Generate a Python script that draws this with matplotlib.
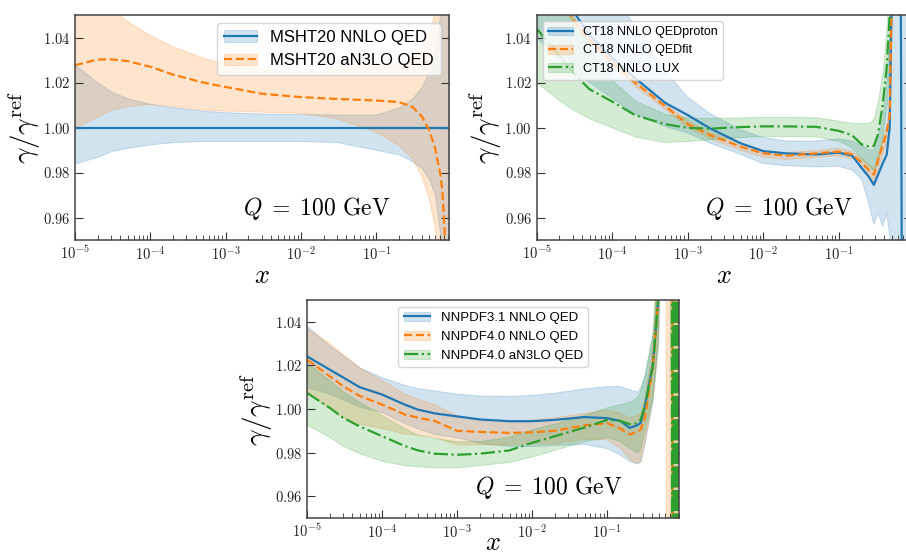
import matplotlib
matplotlib.use("Agg")
import matplotlib.pyplot as plt
from matplotlib.ticker import FuncFormatter, LogLocator, NullFormatter
import numpy as np

plt.rcParams['mathtext.fontset'] = 'cm'

BLUE = '#1f77b4'
ORANGE = '#ff7f0e'
GREEN = '#2ca02c'

### Panel 1: MSHT20
x1 = [1e-5, 2e-5, 3e-5, 5e-5, 1e-4, 2e-4, 5e-4, 1e-3, 3e-3, 1e-2, 3e-2, 0.1,
      0.2, 0.3, 0.4, 0.5, 0.6, 0.7, 0.75, 0.8, 0.85, 0.9, 0.92]
msht_nnlo = [1.0, 1.0, 1.0, 1.0, 1.0, 1.0, 1.0, 1.0, 1.0, 1.0, 1.0, 1.0,
             1.0, 1.0, 1.0, 1.0, 1.0, 1.0, 1.0, 1.0, 1.0, 1.0, 1.0]
msht_nnlo_hi = [1.028, 1.020, 1.016, 1.013, 1.0105, 1.009, 1.0075, 1.0068, 1.0062, 1.006, 1.0058, 1.0058,
                1.009, 1.013, 1.018, 1.025, 1.035, 1.05, 1.06, 1.08, 1.10, 1.12, 1.12]
msht_nnlo_lo = [0.984, 0.987, 0.9895, 0.991, 0.9925, 0.9935, 0.994, 0.994, 0.994, 0.994, 0.9935, 0.990,
                0.988, 0.985, 0.982, 0.977, 0.970, 0.953, 0.93, 0.91, 0.89, 0.88, 0.88]
msht_an3lo = [1.0277, 1.0302, 1.0303, 1.0295, 1.027, 1.0235, 1.020, 1.018, 1.015, 1.0135, 1.0127, 1.012,
              1.0113, 1.0092, 1.005, 0.999, 0.991, 0.980, 0.972, 0.956, 0.93, 0.90, 0.89]
msht_an3lo_hi = [1.075, 1.062, 1.053, 1.047, 1.041, 1.036, 1.031, 1.0284, 1.026, 1.0254, 1.026, 1.0275,
                 1.029, 1.031, 1.036, 1.042, 1.052, 1.07, 1.08, 1.09, 1.10, 1.10, 1.10]
msht_an3lo_lo = [1.000, 1.005, 1.008, 1.0095, 1.0105, 1.0095, 1.008, 1.0075, 1.007, 1.0065, 1.004, 0.998,
                 0.992, 0.986, 0.978, 0.968, 0.955, 0.94, 0.93, 0.91, 0.90, 0.90, 0.90]

### Panel 2: CT18
x2 = [1e-5, 2e-5, 3e-5, 5e-5, 1e-4, 2e-4, 5e-4, 1e-3, 2e-3, 5e-3, 1e-2, 2e-2, 5e-2, 0.1,
      0.15, 0.2, 0.25, 0.29, 0.33, 0.38, 0.43, 0.47, 0.5, 0.55, 0.65, 0.69, 0.75, 0.85, 0.92]
ct18_proton = [1.09, 1.065, 1.052, 1.041, 1.031, 1.022, 1.011, 1.0055, 0.9995, 0.993, 0.9895, 0.9885, 0.988, 0.9888,
               0.9875, 0.982, 0.978, 0.9745, 0.979, 0.984, 0.988, 1.000, 1.06, 1.12, 1.12, 0.88, 0.88, 0.88, 0.88]
ct18_proton_hi = [1.15, 1.12, 1.09, 1.075, 1.06, 1.045, 1.025, 1.0135, 1.006, 0.999, 0.9955, 0.994, 0.994, 0.995,
                  0.994, 0.992, 0.990, 0.990, 0.996, 1.003, 1.02, 1.04, 1.10, 1.15, 1.15, 1.15, 1.15, 1.15, 1.15]
ct18_proton_lo = [1.04, 1.03, 1.025, 1.02, 1.013, 1.006, 1.0005, 0.9975, 0.993, 0.988, 0.984, 0.983, 0.9825, 0.9828,
                  0.981, 0.977, 0.966, 0.957, 0.962, 0.956, 0.962, 0.952, 0.94, 0.85, 0.85, 0.85, 0.85, 0.85, 0.85]
ct18_fit = [1.085, 1.06, 1.048, 1.039, 1.029, 1.020, 1.0095, 1.0015, 0.9965, 0.9915, 0.9885, 0.9875, 0.9885, 0.9893,
            0.988, 0.9845, 0.981, 0.979, 0.9855, 0.992, 0.998, 1.005, 1.06, 1.12, 1.12, 1.12, 1.12, 1.12, 1.12]
ct18_fit_hi = [1.087, 1.062, 1.0495, 1.0405, 1.0305, 1.0215, 1.011, 1.003, 0.998, 0.993, 0.990, 0.989, 0.990, 0.991,
               0.9895, 0.9865, 0.9835, 0.982, 0.989, 0.9955, 1.002, 1.01, 1.07, 1.13, 1.13, 1.13, 1.13, 1.13, 1.13]
ct18_fit_lo = [1.083, 1.058, 1.0465, 1.0375, 1.0275, 1.0185, 1.008, 1.000, 0.995, 0.990, 0.987, 0.986, 0.987, 0.9876,
               0.9865, 0.9825, 0.9785, 0.976, 0.982, 0.9885, 0.994, 1.000, 1.05, 1.11, 1.11, 1.11, 1.11, 1.11, 1.11]
ct18_lux = [1.0439, 1.032, 1.0245, 1.017, 1.0115, 1.0055, 1.0015, 0.9998, 0.9995, 1.0002, 1.0005, 1.0005, 1.0003, 0.9985,
            0.9965, 0.9925, 0.9915, 0.9918, 0.997, 1.010, 1.027, 1.05, 1.07, 1.12, 1.12, 1.12, 1.12, 1.12, 1.12]
ct18_lux_hi = [1.12, 1.07, 1.05, 1.035, 1.021, 1.012, 1.006, 1.0045, 1.0042, 1.0045, 1.0048, 1.0048, 1.0045, 1.003,
               1.002, 1.002, 1.002, 1.004, 1.012, 1.025, 1.045, 1.07, 1.09, 1.15, 1.15, 1.15, 1.15, 1.15, 1.15]
ct18_lux_lo = [1.020, 1.012, 1.008, 1.004, 1.000, 0.996, 0.9935, 0.994, 0.9948, 0.9958, 0.9962, 0.9962, 0.996, 0.994,
               0.991, 0.986, 0.983, 0.981, 0.985, 0.997, 1.010, 1.03, 1.05, 1.10, 1.10, 1.10, 1.10, 1.10, 1.10]

### Panel 3: NNPDF
x3 = [1e-5, 2e-5, 3e-5, 5e-5, 1e-4, 2e-4, 3e-4, 5e-4, 1e-3, 2e-3, 5e-3, 1e-2, 2e-2, 5e-2,
      0.1, 0.15, 0.2, 0.25, 0.28, 0.32, 0.41, 0.48]
nn31 = [1.0241, 1.018, 1.0145, 1.010, 1.0066, 1.002, 0.9997, 0.998, 0.9966, 0.9952, 0.9944, 0.9944, 0.995, 0.9963,
        0.9958, 0.9945, 0.9913, 0.9925, 0.9936, 1.0012, 1.021, 1.05]
nn31_hi = [1.038, 1.029, 1.0245, 1.019, 1.0145, 1.011, 1.0095, 1.0085, 1.007, 1.0062, 1.006, 1.0065, 1.0075, 1.0095,
           1.0105, 1.0105, 1.009, 1.008, 1.010, 1.016, 1.035, 1.07]
nn31_lo = [1.010, 1.007, 1.0045, 1.001, 0.9985, 0.9935, 0.991, 0.9885, 0.987, 0.9845, 0.983, 0.983, 0.9835, 0.984,
           0.982, 0.979, 0.976, 0.975, 0.976, 0.985, 1.005, 1.03]
nn40 = [1.0226, 1.015, 1.0105, 1.006, 1.002, 0.9975, 0.996, 0.9945, 0.990, 0.9895, 0.989, 0.9893, 0.990, 0.9925,
        0.9935, 0.991, 0.9883, 0.9895, 0.9905, 0.996, 1.02, 1.05]
nn40_hi = [1.037, 1.030, 1.025, 1.019, 1.013, 1.007, 1.0045, 1.002, 0.997, 0.995, 0.9945, 0.995, 0.996, 0.998,
           0.9995, 0.998, 0.996, 0.997, 0.998, 1.005, 1.03, 1.07]
nn40_lo = [1.008, 1.000, 0.996, 0.993, 0.991, 0.9885, 0.988, 0.987, 0.9835, 0.9835, 0.9835, 0.984, 0.984, 0.986,
           0.986, 0.982, 0.977, 0.975, 0.976, 0.985, 1.005, 1.03]
nn40n3 = [1.0073, 1.0005, 0.996, 0.992, 0.9875, 0.983, 0.981, 0.9795, 0.979, 0.9795, 0.981, 0.9845, 0.9875, 0.9915,
          0.995, 0.9945, 0.993, 0.9935, 0.995, 1.0012, 1.02, 1.05]
nn40n3_hi = [1.021, 1.013, 1.008, 1.003, 0.997, 0.991, 0.988, 0.9865, 0.985, 0.985, 0.987, 0.9905, 0.993, 0.997,
             1.0005, 1.002, 1.003, 1.005, 1.008, 1.015, 1.035, 1.07]
nn40n3_lo = [0.9925, 0.987, 0.983, 0.9795, 0.976, 0.974, 0.9735, 0.973, 0.973, 0.974, 0.9755, 0.978, 0.981, 0.985,
             0.987, 0.985, 0.982, 0.980, 0.981, 0.990, 1.005, 1.03]

# large-x tails of the NNPDF sets, where the curves blow up
x3_tail = [0.55, 0.61, 0.62, 0.69, 0.70, 0.73, 0.74, 0.75, 0.76, 0.77, 0.78, 0.79, 0.80, 0.81,
           0.82, 0.83, 0.84, 0.85, 0.86, 0.87, 0.88, 0.89, 0.90, 0.91, 0.92]
nn31_tail = [1.12, 1.12, 1.12, 1.12, 1.12, 1.12, 1.12, 1.12, 1.12, 1.12, 1.12, 1.12, 1.12, 1.12,
             1.12, 1.12, 1.12, 1.12, 1.12, 1.12, 1.12, 1.12, 1.12, 1.12, 1.12]
nn40_tail = [1.12, 1.12, 1.12, 1.12, 1.12, 1.12, 1.12, 0.88, 0.88, 1.12, 1.12, 0.88, 0.88, 1.12,
             1.12, 0.88, 0.88, 1.12, 1.12, 0.88, 0.88, 1.12, 1.12, 0.88, 0.88]
nn40_tail_lo = [1.10, 1.10, 0.85, 0.85, 1.10, 0.85, 0.85, 0.85, 0.85, 0.85, 0.85, 0.85, 0.85, 0.85,
                0.85, 0.85, 0.85, 0.85, 0.85, 0.85, 0.85, 0.85, 0.85, 0.85, 0.85]
nn40n3_tail = [1.12, 1.12, 1.12, 1.12, 1.12, 1.12, 0.88, 0.88, 1.12, 1.12, 0.88, 0.88, 1.12, 1.12,
               0.88, 0.88, 1.12, 1.12, 0.88, 0.88, 1.12, 1.12, 0.88, 0.88, 1.12]
nn40n3_tail_lo = [1.10, 1.10, 1.10, 1.10, 1.10, 0.85, 0.85, 0.85, 0.85, 0.85, 0.85, 0.85, 0.85, 0.85,
                  0.85, 0.85, 0.85, 0.85, 0.85, 0.85, 0.85, 0.85, 0.85, 0.85, 0.85]
tail_hi = [1.15, 1.15, 1.15, 1.15, 1.15, 1.15, 1.15, 1.15, 1.15, 1.15, 1.15, 1.15, 1.15, 1.15,
           1.15, 1.15, 1.15, 1.15, 1.15, 1.15, 1.15, 1.15, 1.15, 1.15, 1.15]
nn31_tail_lo = [1.10, 1.10, 1.10, 1.10, 1.10, 1.10, 1.10, 1.10, 1.10, 1.10, 1.10, 1.10, 1.10, 1.10,
                1.10, 1.10, 1.10, 1.10, 1.10, 1.10, 1.10, 1.10, 1.10, 1.10, 1.10]


def style_axes(ax, xpad=0):
    ax.set_xscale('log')
    ax.set_xlim(1e-5, 0.92)
    ax.set_ylim(0.95, 1.05)
    ax.set_yticks([0.96, 0.98, 1.00, 1.02, 1.04])
    ax.yaxis.set_major_formatter(FuncFormatter(lambda v, p: r'$%.2f$' % v))
    ax.xaxis.set_major_locator(LogLocator(base=10, numticks=12))
    ax.xaxis.set_minor_locator(LogLocator(base=10, subs=np.arange(2, 10), numticks=12))
    ax.xaxis.set_major_formatter(FuncFormatter(lambda v, p: r'$10^{%d}$' % round(np.log10(v))))
    ax.xaxis.set_minor_formatter(NullFormatter())
    ax.tick_params(which='both', direction='in', right=True, colors='#333333')
    ax.tick_params(which='major', length=6, labelsize=10.5, labelcolor='#222222')
    ax.tick_params(which='minor', length=3.5)
    for s in ax.spines.values():
        s.set_color('#444444')
        s.set_linewidth(1.1)
    ax.set_xlabel(r'$x$', fontsize=19, labelpad=xpad)
    ax.set_ylabel(r'$\gamma/\gamma^{\rm ref}$', fontsize=21, labelpad=0)
    ax.text(0.45, 0.11, r'$Q\;=\;100\ {\rm GeV}$', transform=ax.transAxes, fontsize=17)


def curve(ax, x, c, lo, hi, color, ls):
    f = ax.fill_between(x, lo, hi, color=color, alpha=0.2, linewidth=0.8)
    l, = ax.plot(x, c, color=color, ls=ls, lw=1.6)
    return (f, l)


fig = plt.figure(figsize=(9.06, 5.57), dpi=100)
W, H = 906.0, 557.0

# top left
ax1 = fig.add_axes([75 / W, 1 - 240 / H, 374 / W, 225 / H])
h1 = curve(ax1, x1, msht_nnlo, msht_nnlo_lo, msht_nnlo_hi, BLUE, '-')
h2 = curve(ax1, x1, msht_an3lo, msht_an3lo_lo, msht_an3lo_hi, ORANGE, '--')
style_axes(ax1)
ax1.legend([h1, h2], ['MSHT20 NNLO QED', 'MSHT20 aN3LO QED'], loc='upper right',
           prop={'family': 'Liberation Sans', 'size': 12})

# top right (cut off by the figure edge)
ax2 = fig.add_axes([536.7 / W, 1 - 240 / H, 375 / W, 225 / H])
h1 = curve(ax2, x2, ct18_proton, ct18_proton_lo, ct18_proton_hi, BLUE, '-')
h2 = curve(ax2, x2, ct18_fit, ct18_fit_lo, ct18_fit_hi, ORANGE, '--')
h3 = curve(ax2, x2, ct18_lux, ct18_lux_lo, ct18_lux_hi, GREEN, '-.')
style_axes(ax2)
ax2.legend([h1, h2, h3], ['CT18 NNLO QEDproton', 'CT18 NNLO QEDfit', 'CT18 NNLO LUX'],
           loc='upper left', prop={'family': 'Liberation Sans', 'size': 9})

# bottom
ax3 = fig.add_axes([307.3 / W, 1 - 518 / H, 372 / W, 218 / H])
h1 = curve(ax3, x3 + x3_tail, nn31 + nn31_tail, nn31_lo + nn31_tail_lo, nn31_hi + tail_hi, BLUE, '-')
h2 = curve(ax3, x3 + x3_tail, nn40 + nn40_tail, nn40_lo + nn40_tail_lo, nn40_hi + tail_hi, ORANGE, '--')
h3 = curve(ax3, x3 + x3_tail, nn40n3 + nn40n3_tail, nn40n3_lo + nn40n3_tail_lo, nn40n3_hi + tail_hi, GREEN, '-.')
style_axes(ax3, xpad=-8)
ax3.legend([h1, h2, h3], ['NNPDF3.1 NNLO QED', 'NNPDF4.0 NNLO QED', 'NNPDF4.0 aN3LO QED'],
           loc='upper center', prop={'family': 'Liberation Sans', 'size': 9.5})

fig.savefig('out.png', dpi=100)
